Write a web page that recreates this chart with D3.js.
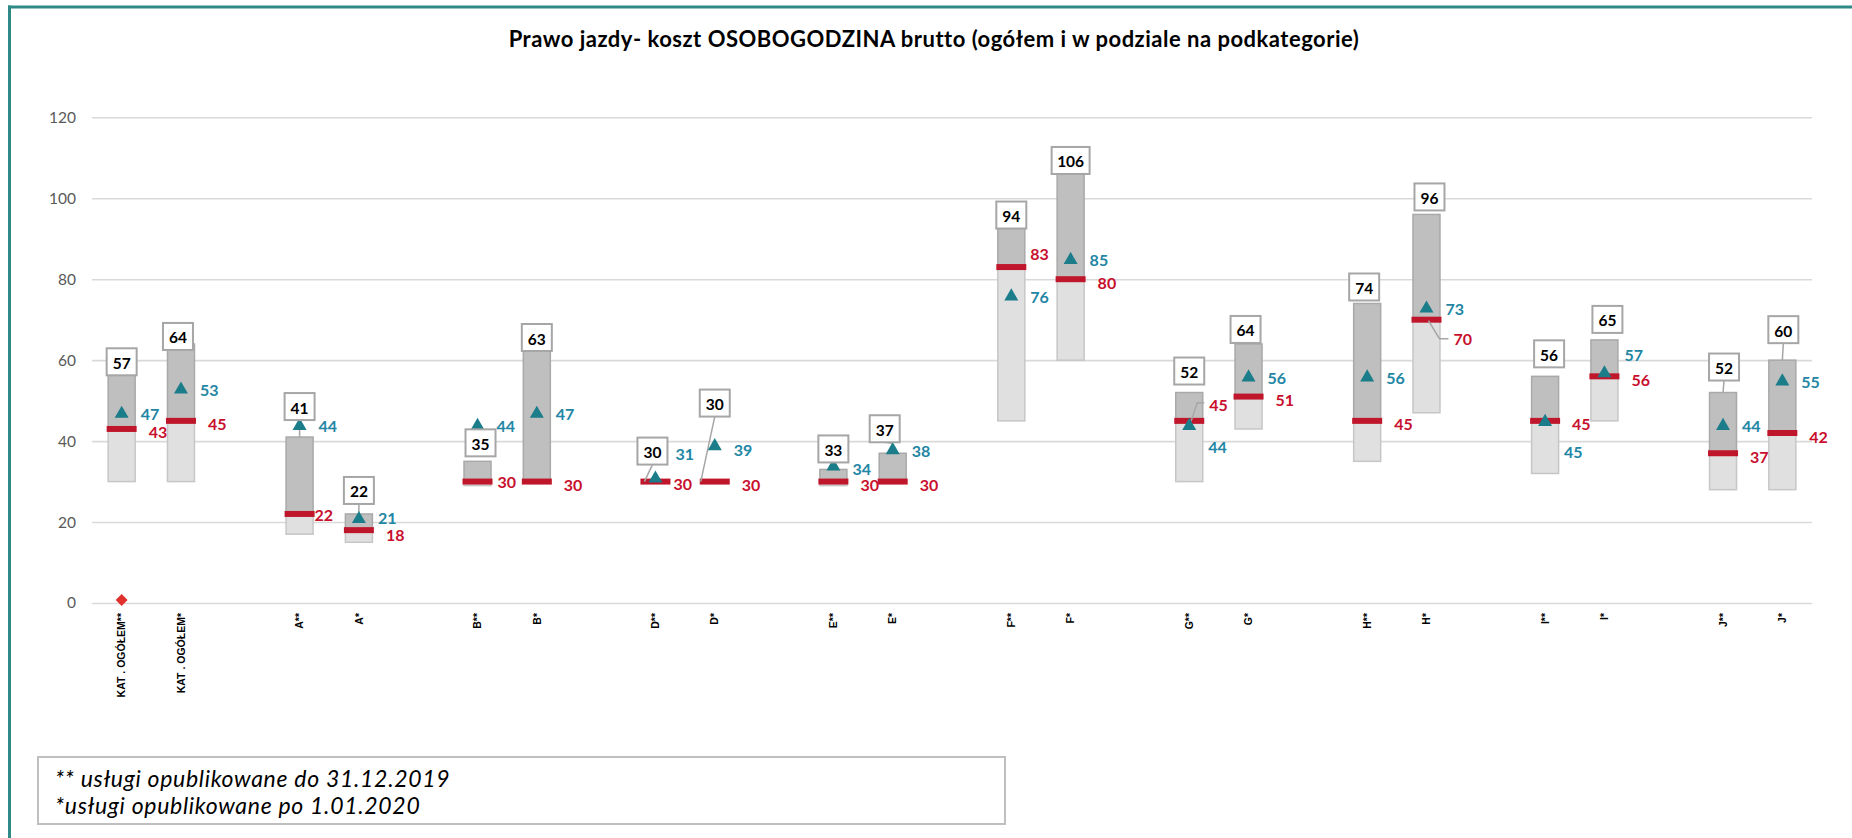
<!DOCTYPE html>
<html>
<head>
<meta charset="utf-8">
<script src="https://cdn.jsdelivr.net/npm/d3@7"></script>
<style>
  html, body { margin: 0; padding: 0; background: #ffffff; }
  svg { display: block; font-family: Lato, "Open Sans", "DejaVu Sans", sans-serif; }
</style>
</head>
<body>
<svg id="chart" width="1852" height="838"></svg>
<script>
// ---------------- DATA ----------------
const title = "Prawo jazdy- koszt OSOBOGODZINA brutto (ogółem i w podziale na podkategorie)";
const categories = ["KAT . OGÓŁEM**", "KAT . OGÓŁEM*", "A**", "A*", "B**", "B*", "D**", "D*", "E**", "E*",
                    "F**", "F*", "G**", "G*", "H**", "H*", "I**", "I*", "J**", "J*"];
const minValues    = [30, 30, 17, 15, 29, 30, 30, 30, 29, 30, 45, 60, 30, 43, 35, 47, 32, 45, 28, 28];
const medianValues = [43, 45, 22, 18, 30, 30, 30, 30, 30, 30, 83, 80, 45, 51, 45, 70, 45, 56, 37, 42];
const meanValues   = [47, 53, 44, 21, 44, 47, 31, 39, 34, 38, 76, 85, 44, 56, 56, 73, 45, 57, 44, 55];
const maxValues    = [57, 64, 41, 22, 35, 63, 30, 30, 33, 37, 94, 106, 52, 64, 74, 96, 56, 65, 52, 60];
const zeroMarker   = [1, null, null, null, null, null, null, null, null, null,
                      null, null, null, null, null, null, null, null, null, null];
const yTicks = [0, 20, 40, 60, 80, 100, 120];
const footnotes = ["** usługi opublikowane do 31.12.2019", "*usługi opublikowane po 1.01.2020"];

// ---------------- LABEL LAYOUT (pixel nudges, not data) ----------------
const labelLayout = {
  "KAT . OGÓŁEM*": { boxDx: -3, boxDy: 3 },
  "A**": { boxDy: -20, medDx: -12, medDy: -2, leader: { to: "max", dx: 0 } },
  "A*":  { boxDy: -13, meanDy: -1.5, medDy: 1.5, leader: { to: "meanTop", dx: 0 } },
  "B**": { boxDx: 3, boxDy: -8, medDx: -7, medDy: -3 },
  "D**": { boxDx: -3, boxDy: -20, meanDx: 1, meanDy: -25, medDx: -9, medDy: -1, leader: { to: "median", dx: -11 } },
  "D*":  { boxDy: -68, meanDy: 3, leader: { to: "median", dx: -14 } },
  "E**": { boxDy: -10, meanDy: 2, leader: { to: "meanTop", dx: 0 } },
  "E*":  { boxDx: -8, boxDy: -14, leader: { to: "meanTop", dx: 0 } },
  "F**": { boxDy: 3, medDx: -8, medDy: -17 },
  "F*":  { boxDy: -3 },
  "G**": { boxDy: -11, medDx: -7, medDy: -19, meanDy: 21, medLeader: "left" },
  "G*":  { boxDx: -3, boxDy: -4 },
  "H**": { boxDx: -3, boxDy: -6 },
  "H*":  { boxDx: 3, boxDy: -7, medDy: 16, medLeader: "down" },
  "I**": { boxDx: 4, boxDy: -12, meanDy: 30 },
  "I*":  { boxDx: 3, boxDy: -10, meanDx: 1, meanDy: -19 },
  "J**": { boxDx: 1, boxDy: -15, leader: { to: "max", dx: 0 } },
  "J*":  { boxDx: 1, boxDy: -20, leader: { to: "max", dx: 0 } }
};

// ---------------- SETUP ----------------
const svg = d3.select("#chart");
const W = 1852, H = 838;

const colors = {
  frame: "#2f8a87",
  grid: "#d9d9d9",
  axisText: "#595959",
  lightFill: "#e0e0e0", lightStroke: "#c6c6c6",
  darkFill: "#bfbfbf", darkStroke: "#a9a9a9",
  median: "#c0162b", medianText: "#c8102e",
  meanMark: "#1b7d8a", meanText: "#2286a4",
  boxStroke: "#a6a6a6",
  diamond: "#e0302c"
};

// slots: each pair of categories followed by an empty slot
const slots = [];
categories.forEach((c, i) => {
  slots.push(c);
  if (i % 2 === 1 && i < categories.length - 1) slots.push("__gap" + i);
});

const x = d3.scaleBand().domain(slots).range([92, 1812]).padding(0);
const y = d3.scaleLinear().domain([0, 120]).range([603, 117.3]);
const cx = c => x(c) + x.bandwidth() / 2;

const data = categories.map((c, i) => ({
  cat: c, min: minValues[i], median: medianValues[i], mean: meanValues[i], max: maxValues[i],
  zero: zeroMarker[i], lay: labelLayout[c] || {}
}));

// frame (teal, top and left)
svg.append("line").attr("x1", 8).attr("x2", W).attr("y1", 7).attr("y2", 7)
  .attr("stroke", colors.frame).attr("stroke-width", 3);
svg.append("line").attr("x1", 9.5).attr("x2", 9.5).attr("y1", 5.5).attr("y2", H)
  .attr("stroke", colors.frame).attr("stroke-width", 3);

// title
svg.append("text").attr("x", 934).attr("y", 38)
  .attr("text-anchor", "middle").attr("dominant-baseline", "central")
  .attr("font-size", 22).attr("font-weight", 700).attr("fill", "#000")
  .attr("letter-spacing", 0.5)
  .text(title);

// grid + y axis
const yAxis = d3.axisLeft(y).tickValues(yTicks).tickSize(-(1812 - 92)).tickPadding(16);
const gy = svg.append("g").attr("transform", "translate(92,0)").call(yAxis);
gy.select(".domain").remove();
gy.selectAll(".tick line").attr("stroke", colors.grid).attr("stroke-width", 1.6);
gy.selectAll(".tick text").attr("font-size", 15.5).attr("fill", colors.axisText)
  .attr("font-family", "Lato, 'Open Sans', sans-serif");

// x category labels (rotated)
const xAxis = d3.axisBottom(x).tickValues(categories).tickSize(0).tickPadding(0);
const gx = svg.append("g").attr("transform", `translate(0,${y(0)})`).call(xAxis);
gx.select(".domain").remove();
gx.selectAll(".tick text")
  .attr("transform", "translate(0,10) rotate(-90)")
  .attr("text-anchor", "end").attr("dy", "0.35em").attr("x", 0).attr("y", 0)
  .attr("font-size", 10.5).attr("font-weight", 700).attr("fill", "#000")
  .attr("font-family", "'Liberation Sans', Arial, sans-serif");

const barW = 27;

// light part: min -> median
svg.append("g").selectAll("rect").data(data).join("rect")
  .attr("x", d => cx(d.cat) - barW / 2)
  .attr("y", d => y(d.median))
  .attr("width", barW)
  .attr("height", d => Math.max(0, y(d.min) - y(d.median)))
  .attr("fill", colors.lightFill).attr("stroke", colors.lightStroke).attr("stroke-width", 1.5);

// dark part: median -> max
svg.append("g").selectAll("rect").data(data.filter(d => d.max > d.median)).join("rect")
  .attr("x", d => cx(d.cat) - barW / 2)
  .attr("y", d => y(d.max))
  .attr("width", barW)
  .attr("height", d => y(d.median) - y(d.max))
  .attr("fill", colors.darkFill).attr("stroke", colors.darkStroke).attr("stroke-width", 1.5);

// median bars
svg.append("g").selectAll("rect").data(data).join("rect")
  .attr("x", d => cx(d.cat) - 15)
  .attr("y", d => y(d.median) - 3)
  .attr("width", 30).attr("height", 6)
  .attr("fill", colors.median);

// leaders
const gLead = svg.append("g").attr("stroke", colors.boxStroke).attr("stroke-width", 1.5).attr("fill", "none");

// box geometry helper
function boxGeom(d) {
  const lay = d.lay;
  const txt = String(d.max);
  const w = txt.length > 2 ? 38 : 30;
  const h = 27;
  const bx = cx(d.cat) + (lay.boxDx || 0);
  const bottom = y(d.max) + 3 + (lay.boxDy || 0);
  return { bx, w, h, bottom, top: bottom - h, txt };
}

data.forEach(d => {
  const lay = d.lay, c = cx(d.cat);
  if (lay.leader) {
    const b = boxGeom(d);
    let ty;
    if (lay.leader.to === "max") ty = y(d.max);
    else if (lay.leader.to === "meanTop") ty = y(d.mean) - 6;
    else ty = y(d.median);
    gLead.append("line").attr("x1", b.bx).attr("y1", b.bottom)
      .attr("x2", c + lay.leader.dx).attr("y2", ty);
  }
  if (lay.medLeader) {
    const lx = c + 27 + (lay.medDx || 0);
    const ly = y(d.median) + 3 + (lay.medDy || 0);
    let pts;
    if (lay.medLeader === "left") pts = [[lx - 5, ly - 2], [lx - 12, ly - 2], [c + 2, y(d.median)]];
    else pts = [[c + 2, y(d.median) + 1], [c + 13, ly], [lx - 5, ly]];
    gLead.append("path").attr("d", d3.line()(pts));
  }
});

// mean triangles
const tri = d3.symbol().type(d3.symbolTriangle).size(85);
svg.append("g").selectAll("path").data(data).join("path")
  .attr("d", tri)
  .attr("transform", d => `translate(${cx(d.cat)},${y(d.mean) + 1})`)
  .attr("fill", colors.meanMark);

// zero marker diamond
svg.append("g").selectAll("path").data(data.filter(d => d.zero != null)).join("path")
  .attr("d", d3.symbol().type(d3.symbolDiamond2).size(90))
  .attr("transform", d => `translate(${cx(d.cat)},${y(d.zero) + 1})`)
  .attr("fill", colors.diamond);

// max label boxes
const gBox = svg.append("g");
data.forEach(d => {
  const b = boxGeom(d);
  gBox.append("rect").attr("x", b.bx - b.w / 2).attr("y", b.top).attr("width", b.w).attr("height", b.h)
    .attr("fill", "#fff").attr("stroke", colors.boxStroke).attr("stroke-width", 2);
  gBox.append("text").attr("x", b.bx).attr("y", b.top + b.h / 2 + 1)
    .attr("text-anchor", "middle").attr("dominant-baseline", "central")
    .attr("font-size", 15.5).attr("font-weight", 700).attr("fill", "#000").text(b.txt);
});

// mean labels
svg.append("g").selectAll("text").data(data).join("text")
  .attr("x", d => cx(d.cat) + 19 + (d.lay.meanDx || 0))
  .attr("y", d => y(d.mean) + 1 + (d.lay.meanDy || 0))
  .attr("dominant-baseline", "central")
  .attr("font-size", 16).attr("font-weight", 700).attr("fill", colors.meanText)
  .text(d => d.mean);

// median labels
svg.append("g").selectAll("text").data(data).join("text")
  .attr("x", d => cx(d.cat) + 27 + (d.lay.medDx || 0))
  .attr("y", d => y(d.median) + 3 + (d.lay.medDy || 0))
  .attr("dominant-baseline", "central")
  .attr("font-size", 16).attr("font-weight", 700).attr("fill", colors.medianText)
  .text(d => d.median);

// footnote box
svg.append("rect").attr("x", 38).attr("y", 757).attr("width", 967).attr("height", 67)
  .attr("fill", "#fff").attr("stroke", "#bfbfbf").attr("stroke-width", 2);
svg.append("g").selectAll("text").data(footnotes).join("text")
  .attr("x", 55).attr("y", (d, i) => 787 + i * 27)
  .attr("font-size", 23).attr("font-style", "italic").attr("fill", "#000")
  .attr("letter-spacing", 0.7)
  .text(d => d);
</script>
</body>
</html>
